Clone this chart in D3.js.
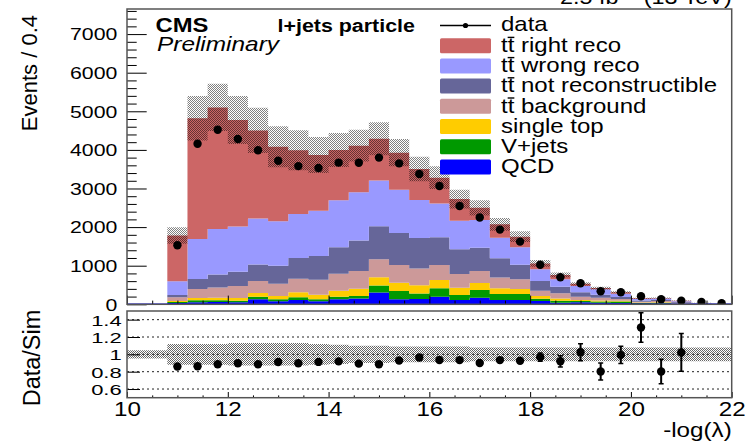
<!DOCTYPE html>
<html>
<head>
<meta charset="utf-8">
<script src="https://cdn.jsdelivr.net/npm/d3@7"></script>
<style>
  body { margin: 0; background: #fff; }
  svg { display: block; }
  text { font-family: "Liberation Sans", Arial, Helvetica, sans-serif; fill: #000; }
</style>
</head>
<body>
<svg id="chart" width="756" height="445"></svg>
<script>
// ---- binning: lower edges of the filled bins (width 0.4 in -log(lambda))
const binLow = [10.8, 11.2, 11.6, 12.0, 12.4, 12.8, 13.2, 13.6, 14.0, 14.4,
                14.8, 15.2, 15.6, 16.0, 16.4, 16.8, 17.2, 17.6, 18.0, 18.4,
                18.8, 19.2, 19.6, 20.0, 20.4, 20.8, 21.2, 21.6];
const binWidth = 0.4;

// ---- simulated contributions (events / bin), bottom of the stack first
const qcd          = [34, 55, 60, 52, 129, 78, 111, 78, 129, 150, 304, 128, 136, 197, 110, 170, 110, 111, 85, 40, 50, 40, 35, 10, 15, 5, 0, 0];
const vJets        = [26, 48, 48, 38, 69, 51, 70, 51, 69, 68, 182, 219, 144, 216, 130, 199, 156, 156, 61, 50, 35, 35, 40, 25, 25, 10, 3, 1];
const singleTop    = [25, 57, 64, 70, 95, 86, 129, 120, 154, 186, 212, 212, 211, 215, 190, 181, 152, 129, 69, 60, 26, 25, 20, 10, 10, 8, 2, 1];
const ttBackground = [96, 236, 263, 314, 310, 319, 353, 388, 441, 461, 470, 458, 435, 392, 353, 311, 276, 251, 138, 135, 87, 71, 42, 20, 35, 20, 10, 4];
const ttNotReco    = [60, 259, 337, 371, 427, 466, 536, 614, 683, 791, 851, 833, 791, 720, 641, 606, 496, 379, 250, 172, 112, 78, 52, 35, 25, 15, 8, 3];
const ttWrongReco  = [359, 1035, 1178, 1170, 1190, 1150, 1140, 1174, 1217, 1249, 1191, 1115, 985, 870, 743, 717, 537, 450, 303, 190, 164, 139, 86, 40, 40, 24, 8, 3];
const ttRightReco  = [1180, 3130, 3150, 2758, 2285, 1932, 1651, 1442, 1302, 1203, 1080, 962, 802, 669, 558, 314, 345, 275, 154, 113, 57, 32, 38, 18, 12, 10, 4, 2];

// ---- observed data and its uncertainty
const dataCounts = [1530, 4160, 4520, 4281, 3990, 3720, 3580, 3530, 3670, 3668, 3800, 3651, 3375, 3064, 2545, 2248, 1935, 1623, 1026, 699, 544, 337, 311, 207, 130, 94, 60, 26];
const dataErr    = [40, 65, 68, 65, 63, 61, 60, 59, 61, 61, 62, 60, 58, 55, 50, 47, 44, 40, 50, 49, 52, 41, 31, 27, 23, 20, 16, 10];

// ---- relative uncertainty of the simulation, full axis range (10.0 .. 22.0)
const uncLow = [10.0, 10.4, 10.8, 11.2, 11.6, 12.0, 12.4, 12.8, 13.2, 13.6,
                14.0, 14.4, 14.8, 15.2, 15.6, 16.0, 16.4, 16.8, 17.2, 17.6,
                18.0, 18.4, 18.8, 19.2, 19.6, 20.0, 20.4, 20.8, 21.2, 21.6];
const mcRelUnc = [0.047, 0.047, 0.12, 0.12, 0.12, 0.13, 0.13, 0.13, 0.13, 0.12,
                  0.11, 0.10, 0.10, 0.09, 0.09, 0.09, 0.09, 0.08, 0.08, 0.08,
                  0.08, 0.08, 0.08, 0.08, 0.08, 0.08, 0.08, 0.08, 0.08, 0.08];

// ---- axis ticks
const xMajorTicks = [10, 12, 14, 16, 18, 20, 22];
const xMinorTicks = [10.5, 11, 11.5, 12.5, 13, 13.5, 14.5, 15, 15.5, 16.5, 17, 17.5, 18.5, 19, 19.5, 20.5, 21, 21.5];
const yMajorTicks = [0, 1000, 2000, 3000, 4000, 5000, 6000, 7000];
const yMinorTicks = [200, 400, 600, 800, 1200, 1400, 1600, 1800, 2200, 2400, 2600, 2800, 3200, 3400, 3600, 3800,
                     4200, 4400, 4600, 4800, 5200, 5400, 5600, 5800, 6200, 6400, 6600, 6800, 7200, 7400, 7600];
const ratioTicks = [0.6, 0.8, 1.0, 1.2, 1.4];

// ---- legend
const seriesKeys   = ["qcd", "vJets", "singleTop", "ttBackground", "ttNotReco", "ttWrongReco", "ttRightReco"];
const seriesColors = ["#0000ff", "#009900", "#ffcc00", "#cc9999", "#666699", "#9999ff", "#cc6666"];
const seriesLabels = ["QCD", "V+jets", "single top", "tt\u0304 background", "tt\u0304 not reconstructible", "tt\u0304 wrong reco", "tt\u0304 right reco"];

// ================================================================
const svg = d3.select("#chart");
const FONT = '"Liberation Sans", Arial, Helvetica, sans-serif';

const x  = d3.scaleLinear().domain([10, 22]).range([127, 731.7]);
const y  = d3.scaleLinear().domain([0, 7650]).range([304.3, 9]);
const yr = d3.scaleLinear().domain([0.5, 1.5]).range([397.7, 311]);

const mainBox  = { x0: x.range()[0], x1: x.range()[1], y0: y.range()[1], y1: y.range()[0] };
const ratioBox = { x0: x.range()[0], x1: x.range()[1], y0: yr.range()[1], y1: yr.range()[0] };

const defs = svg.append("defs");
// fine dotted texture for the uncertainty bands
const pat = defs.append("pattern").attr("id", "hatch")
  .attr("width", 2).attr("height", 2).attr("patternUnits", "userSpaceOnUse");
pat.append("rect").attr("x", 0).attr("y", 0).attr("width", 1).attr("height", 1).attr("fill", "#000");
pat.append("rect").attr("x", 1).attr("y", 1).attr("width", 1).attr("height", 1).attr("fill", "#000");

defs.append("clipPath").attr("id", "clipMain").append("rect")
  .attr("x", mainBox.x0).attr("y", mainBox.y0)
  .attr("width", mainBox.x1 - mainBox.x0).attr("height", mainBox.y1 - mainBox.y0);
defs.append("clipPath").attr("id", "clipRatio").append("rect")
  .attr("x", ratioBox.x0).attr("y", ratioBox.y0)
  .attr("width", ratioBox.x1 - ratioBox.x0).attr("height", ratioBox.y1 - ratioBox.y0);

// ---- stacked simulation
const columns = { qcd, vJets, singleTop, ttBackground, ttNotReco, ttWrongReco, ttRightReco };
const rows = binLow.map((lo, i) => {
  const r = { lo };
  seriesKeys.forEach(k => r[k] = columns[k][i]);
  return r;
});
const stacked = d3.stack().keys(seriesKeys)(rows);
const mcTotal = rows.map(r => d3.sum(seriesKeys, k => r[k]));

// histogram outline: two points per bin so the area steps at bin edges
const stepArea = d3.area().x(d => x(d.x)).y0(d => d.y0).y1(d => d.y1);
function stepPoints(lows, lowerFn, upperFn) {
  return lows.flatMap((lo, i) => [
    { x: lo, y0: lowerFn(i), y1: upperFn(i) },
    { x: lo + binWidth, y0: lowerFn(i), y1: upperFn(i) }
  ]);
}

const gMain = svg.append("g").attr("clip-path", "url(#clipMain)");
stacked.forEach((s, si) => {
  gMain.append("path")
    .attr("d", stepArea(stepPoints(binLow, i => y(s[i][0]), i => y(s[i][1]))))
    .attr("fill", seriesColors[si]);
});
// QCD outline along zero over the whole axis
gMain.append("line")
  .attr("x1", x(10)).attr("x2", x(22)).attr("y1", y(0)).attr("y2", y(0))
  .attr("stroke", "#0000ff").attr("stroke-width", 1.5);

// simulation uncertainty band
const mainUnc = binLow.map(lo => mcRelUnc[uncLow.indexOf(lo)]);
gMain.append("path")
  .attr("d", stepArea(stepPoints(binLow,
    i => y(mcTotal[i] * (1 - mainUnc[i])),
    i => y(mcTotal[i] * (1 + mainUnc[i])))))
  .attr("fill", "url(#hatch)").attr("opacity", 0.5);

// data points
const centers = binLow.map(lo => lo + binWidth / 2);
const gData = gMain.append("g");
centers.forEach((c, i) => {
  gData.append("line")
    .attr("x1", x(c)).attr("x2", x(c))
    .attr("y1", y(dataCounts[i] - dataErr[i])).attr("y2", y(dataCounts[i] + dataErr[i]))
    .attr("stroke", "#000").attr("stroke-width", 1.5);
  gData.append("circle").attr("cx", x(c)).attr("cy", y(dataCounts[i])).attr("r", 4.2).attr("fill", "#000");
});

// ---- ratio panel
const gRatio = svg.append("g").attr("clip-path", "url(#clipRatio)");
gRatio.append("path")
  .attr("d", stepArea(stepPoints(uncLow, i => yr(1 - mcRelUnc[i]), i => yr(1 + mcRelUnc[i]))))
  .attr("fill", "url(#hatch)").attr("opacity", 0.6);

ratioTicks.forEach(t => {
  gRatio.append("line")
    .attr("x1", ratioBox.x0).attr("x2", ratioBox.x1).attr("y1", yr(t)).attr("y2", yr(t))
    .attr("stroke", "#222").attr("stroke-width", 1).attr("stroke-dasharray", "2,3");
});

centers.forEach((c, i) => {
  const r = dataCounts[i] / mcTotal[i];
  if (r < 0.5 || r > 1.5) return;
  const e = dataErr[i] / mcTotal[i];
  const cx = x(c);
  gRatio.append("line").attr("x1", cx).attr("x2", cx).attr("y1", yr(r - e)).attr("y2", yr(r + e))
    .attr("stroke", "#000").attr("stroke-width", 2);
  [r - e, r + e].forEach(v => gRatio.append("line")
    .attr("x1", cx - 2.5).attr("x2", cx + 2.5).attr("y1", yr(v)).attr("y2", yr(v))
    .attr("stroke", "#000").attr("stroke-width", 1.5));
  gRatio.append("circle").attr("cx", cx).attr("cy", yr(r)).attr("r", 4.2).attr("fill", "#000");
});

// ---- axes (ticks drawn inward, ROOT style)
function styleTicks(g) {
  g.select(".domain").remove();
  g.selectAll(".tick line").attr("stroke", "#000").attr("stroke-width", 1);
}
function stretchLabels(g, size, sx) {
  g.selectAll(".tick text").each(function () {
    const t = d3.select(this);
    const tx = +(t.attr("x") || 0);
    t.attr("x", 0).attr("transform", `translate(${tx},0) scale(${sx},1)`)
      .style("font-family", FONT).style("font-size", size + "px").attr("fill", "#000");
  });
}

// main y axis
const gy = svg.append("g").attr("transform", `translate(${mainBox.x0},0)`)
  .call(d3.axisLeft(y).tickValues(yMajorTicks).tickSize(-19.7).tickPadding(9.7).tickFormat(d3.format("d")));
styleTicks(gy); stretchLabels(gy, 16, 1.33);
gy.selectAll(".tick text").attr("dy", "0.36em");
const gyMinor = svg.append("g").attr("transform", `translate(${mainBox.x0},0)`)
  .call(d3.axisLeft(y).tickValues(yMinorTicks).tickSize(-9.7).tickFormat(""));
styleTicks(gyMinor);

// main x axis (ticks only)
const gx = svg.append("g").attr("transform", `translate(0,${mainBox.y1})`)
  .call(d3.axisBottom(x).tickValues(xMajorTicks).tickSize(-8.7).tickFormat(""));
styleTicks(gx);
const gxMinor = svg.append("g").attr("transform", `translate(0,${mainBox.y1})`)
  .call(d3.axisBottom(x).tickValues(xMinorTicks).tickSize(-3.7).tickFormat(""));
styleTicks(gxMinor);

// ratio x axis with labels
const grx = svg.append("g").attr("transform", `translate(0,${ratioBox.y1})`)
  .call(d3.axisBottom(x).tickValues(xMajorTicks).tickSize(-5.7).tickFormat(d3.format("d")));
styleTicks(grx); stretchLabels(grx, 20.5, 1.18);
grx.selectAll(".tick text").attr("y", 18).attr("dy", null);
const grxMinor = svg.append("g").attr("transform", `translate(0,${ratioBox.y1})`)
  .call(d3.axisBottom(x).tickValues(xMinorTicks).tickSize(-2.3).tickFormat(""));
styleTicks(grxMinor);

// ratio y axis
const gry = svg.append("g").attr("transform", `translate(${ratioBox.x0},0)`)
  .call(d3.axisLeft(yr).tickValues(ratioTicks).tickSize(-13).tickPadding(5.3)
    .tickFormat(d => d === 1 ? "1" : d3.format(".1f")(d)));
styleTicks(gry); stretchLabels(gry, 15.5, 1.42);
gry.selectAll(".tick text").attr("dy", "0.36em");

// ---- frames
[mainBox, ratioBox].forEach(b => {
  svg.append("rect").attr("x", b.x0).attr("y", b.y0)
    .attr("width", b.x1 - b.x0).attr("height", b.y1 - b.y0)
    .attr("fill", "none").attr("stroke", "#555").attr("stroke-width", 1.5);
});

// ---- text helper: horizontally stretched label
function label(px, py, str, size, sx, opts = {}) {
  const g = svg.append("g").attr("transform", `translate(${px},${py}) scale(${sx},1)`);
  const t = g.append("text").attr("x", 0).attr("y", 0)
    .style("font-family", FONT).style("font-size", size + "px")
    .attr("text-anchor", opts.anchor || "start")
    .style("font-weight", opts.weight || "normal")
    .style("font-style", opts.style || "normal");
  return { g, t };
}

// axis titles
label(731.7, 436.7, "-log(\u03bb)", 20.5, 1.18, { anchor: "end" }).t.text("-log(\u03bb)");
svg.append("text").attr("transform", "translate(37.3,15) rotate(-90)")
  .attr("text-anchor", "end").style("font-family", FONT).style("font-size", "22px").text("Events / 0.4");
svg.append("text").attr("transform", "translate(40,358) rotate(-90)")
  .attr("text-anchor", "middle").style("font-family", FONT).style("font-size", "23.5px").text("Data/Sim");

// header texts
label(155.5, 31.7, "", 20, 1.19, { weight: "bold" }).t.text("CMS");
label(157, 50.7, "", 20, 1.22, { style: "italic" }).t.text("Preliminary");
label(277.5, 32.3, "", 18.3, 1.17, { weight: "bold" }).t.text("l+jets particle");
{
  const { t } = label(731.7, 4, "", 20, 1.17, { anchor: "end" });
  t.append("tspan").text("2.5 fb");
  t.append("tspan").attr("dy", -7).style("font-size", "14px").text("\u22121");
  t.append("tspan").attr("dy", 7).text(" (13 TeV)");
}

// ---- legend
const legX = 440, legW = 51, legTextX = 501, legY0 = 25.5, legStep = 20.2;
svg.append("line").attr("x1", legX).attr("x2", legX + legW).attr("y1", legY0).attr("y2", legY0)
  .attr("stroke", "#000").attr("stroke-width", 1.5);
svg.append("circle").attr("cx", legX + legW / 2).attr("cy", legY0).attr("r", 2.6).attr("fill", "#000");
label(legTextX, legY0 + 5.3, "", 20, 1.2).t.text("data");

const legendOrder = d3.range(seriesKeys.length).reverse();
legendOrder.forEach((si, row) => {
  const cy = legY0 + legStep * (row + 1);
  svg.append("rect").attr("x", legX).attr("y", cy - 7.5).attr("width", legW).attr("height", 15)
    .attr("rx", 1.5).attr("fill", seriesColors[si]);
  let txt = seriesLabels[si];
  const hasBar = txt.startsWith("tt\u0304");
  if (hasBar) txt = "tt" + txt.slice(3);
  const { g, t } = label(legTextX, cy + 6.3, "", 20, 1.2);
  t.text(txt);
  if (hasBar) {
    const p0 = t.node().getStartPositionOfChar(1).x;
    const p1 = t.node().getEndPositionOfChar(1).x;
    g.append("line").attr("x1", p0).attr("x2", p1).attr("y1", -14.6).attr("y2", -14.6)
      .attr("stroke", "#000").attr("stroke-width", 1.4);
  }
});
</script>
</body>
</html>
